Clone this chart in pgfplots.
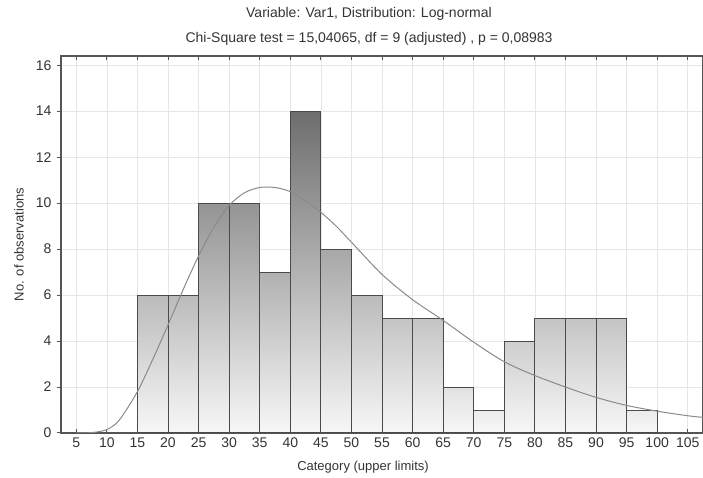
\documentclass[border=0pt]{standalone}
\usepackage{pgfplots}
\pgfplotsset{compat=1.18}
\usepackage{fontspec}
\setmainfont{Liberation Sans}
\definecolor{txt}{HTML}{333333}
\definecolor{frame}{HTML}{555555}
\definecolor{gridc}{HTML}{E6E6E6}
\definecolor{curve}{HTML}{8A8A8A}
\definecolor{edge}{HTML}{4A4A4A}

% bars are shaded with one gradient over the whole height: black!3 at 0, +3.8 per unit
\pgfplotsset{
  hbar/.style={ybar, bar width=5, bar shift=0pt, draw=edge, line width=1pt,
    bottom color=black!3, top color=black!#1},
}

\begin{document}
\begin{tikzpicture}[font=\fontsize{13pt}{15pt}\selectfont, text=txt]
\begin{axis}[
  scale only axis, width=642pt, height=377pt,
  xmin=2.5, xmax=107.5, ymin=0, ymax=16.4,
  xtick={5,10,...,105}, ytick={0,2,...,16},
  xtick pos=both, ytick pos=left,
  xtick align=inside, ytick align=outside,
  major tick length=4pt,
  grid=major, major grid style={gridc, line width=0.6pt},
  axis line style={frame, line width=1.3pt},
  tick style={frame, line width=1pt},
  ticklabel style={font=\fontsize{14pt}{16pt}\selectfont, text=txt},
  xticklabel style={yshift=-1pt},
  yticklabel style={xshift=-2pt},
  /pgf/number format/assume math mode=true,
]
\coordinate (bl) at (rel axis cs:0,0);
\coordinate (tl) at (rel axis cs:0,1);
\coordinate (ml) at (rel axis cs:0,0.5);
\coordinate (tr) at (rel axis cs:1,1);

\addplot[hbar=7.8]  coordinates {(72.5,1) (97.5,1)};
\addplot[hbar=11.6] coordinates {(67.5,2)};
\addplot[hbar=19.2] coordinates {(77.5,4)};
\addplot[hbar=23]   coordinates {(57.5,5) (62.5,5) (82.5,5) (87.5,5) (92.5,5)};
\addplot[hbar=26.8] coordinates {(17.5,6) (22.5,6) (52.5,6)};
\addplot[hbar=30.6] coordinates {(37.5,7)};
\addplot[hbar=34.4] coordinates {(47.5,8)};
\addplot[hbar=42]   coordinates {(27.5,10) (32.5,10)};
\addplot[hbar=57.2] coordinates {(42.5,14)};

% fitted log-normal curve
\addplot[curve, line width=1pt, smooth, mark=none] coordinates {
  (5,0) (7,0.01) (8,0.03) (10,0.15) (12,0.55) (15,1.8) (17.5,3.2) (20,4.7)
  (22.5,6.25) (25,7.7) (27.5,8.95) (30,9.9) (32.5,10.45) (35,10.68) (37.5,10.68)
  (40,10.5) (42.5,10.1) (45,9.6) (47.5,9.0) (50,8.3) (55,6.9) (60,5.8) (65,4.9)
  (70,3.95) (75,3.1) (80,2.5) (85,2.0) (90,1.55) (95,1.2) (100,0.95) (105,0.75)
  (107.5,0.68)};
\end{axis}
\node[font=\fontsize{14pt}{16pt}\selectfont] at ([xshift=308pt, yshift=42pt]tl) {Variable: Var1, Distribution: Log-normal};
\node[font=\fontsize{14pt}{16pt}\selectfont] at ([xshift=308pt, yshift=17pt]tl) {Chi-Square test = 15,04065, df = 9 (adjusted) , p = 0,08983};
\node[rotate=90, font=\fontsize{13pt}{15pt}\selectfont] at ([xshift=-42pt]ml) {No. of observations};
\node[font=\fontsize{13pt}{15pt}\selectfont] at ([xshift=302pt, yshift=-34pt]bl) {Category (upper limits)};
\pgfresetboundingbox
\useasboundingbox ([shift={(-61pt,-45pt)}]bl) rectangle ([shift={(0pt,56pt)}]tr);
\end{tikzpicture}
\end{document}
